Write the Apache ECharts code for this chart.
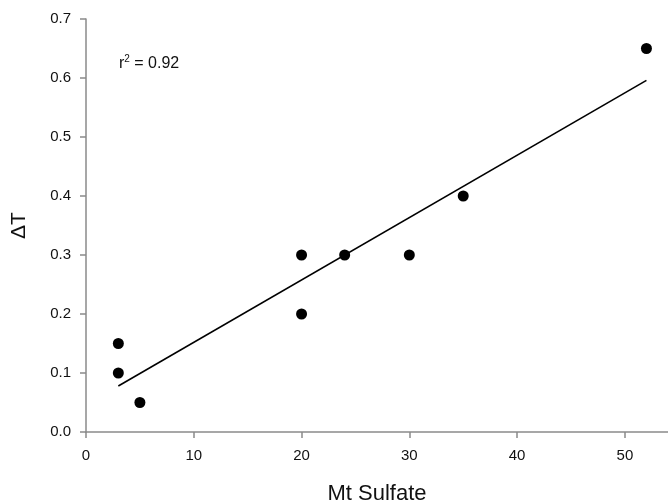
<!DOCTYPE html>
<html>
<head>
<meta charset="utf-8">
<script src="https://cdn.jsdelivr.net/npm/echarts@6/dist/echarts.min.js"></script>
<style>html,body{margin:0;padding:0;background:#fff}#c{width:668px;height:504px}</style>
</head>
<body>
<div id="c"></div>
<script>
const sulfate = [3, 3, 5, 20, 20, 24, 30, 35, 52];
const deltaT = [0.15, 0.10, 0.05, 0.30, 0.20, 0.30, 0.30, 0.40, 0.65];
const fitX = [3, 52];
const fitY = [0.078, 0.596];
const xTicks = [0, 10, 20, 30, 40, 50];
const yTicks = [0.0, 0.1, 0.2, 0.3, 0.4, 0.5, 0.6, 0.7];
const r2Label = '0.92';

const chart = echarts.init(document.getElementById('c'), null, {renderer: 'canvas'});
const font = 'Liberation Sans, Arial, sans-serif';
chart.setOption({
  animation: false,
  textStyle: {fontFamily: font},
  grid: {left: 86, top: 19, right: 0, bottom: 72, outerBoundsMode: 'none', containLabel: false},
  xAxis: {
    type: 'value', min: 0, max: 54, interval: 10,
    name: 'Mt Sulfate', nameLocation: 'middle', nameGap: 51,
    nameTextStyle: {fontSize: 22, color: '#111', fontFamily: font},
    axisLine: {lineStyle: {color: '#8a8a8a', width: 1.5}},
    axisTick: {show: true, length: 6, lineStyle: {color: '#8a8a8a', width: 1.5}},
    axisLabel: {fontSize: 15, color: '#111', margin: 16, showMaxLabel: false, fontFamily: font,
      formatter: v => xTicks.includes(v) ? String(v) : ''},
    splitLine: {show: false}
  },
  yAxis: {
    type: 'value', min: 0, max: 0.7, interval: 0.1,
    name: 'ΔT', nameLocation: 'middle', nameGap: 56, nameRotate: 90,
    nameTextStyle: {fontSize: 21, color: '#111', fontFamily: font},
    axisLine: {show: true, lineStyle: {color: '#8a8a8a', width: 1.5}},
    axisTick: {show: true, length: 6, lineStyle: {color: '#8a8a8a', width: 1.5}},
    axisLabel: {fontSize: 15, color: '#111', margin: 15, fontFamily: font,
      formatter: v => { const t = yTicks.find(y => Math.abs(y - v) < 1e-9); return t === undefined ? '' : t.toFixed(1); }},
    splitLine: {show: false}
  },
  graphic: [{
    type: 'text', left: 119, top: 54,
    style: {
      text: '{b|r}{s|2}{b| = ' + r2Label + '}',
      rich: {
        b: {fontSize: 16, fill: '#111', fontFamily: font},
        s: {fontSize: 10, fill: '#111', fontFamily: font, verticalAlign: 'top', padding: [0, 0, 9, 0]}
      }
    }
  }],
  series: [
    {
      type: 'line', data: fitX.map((x, i) => [x, fitY[i]]),
      showSymbol: false, symbol: 'none',
      lineStyle: {color: '#000', width: 1.6}, z: 2
    },
    {
      type: 'scatter', data: sulfate.map((x, i) => [x, deltaT[i]]),
      symbol: 'circle', symbolSize: 11,
      itemStyle: {color: '#000', opacity: 1}, z: 3
    }
  ]
});
</script>
</body>
</html>
